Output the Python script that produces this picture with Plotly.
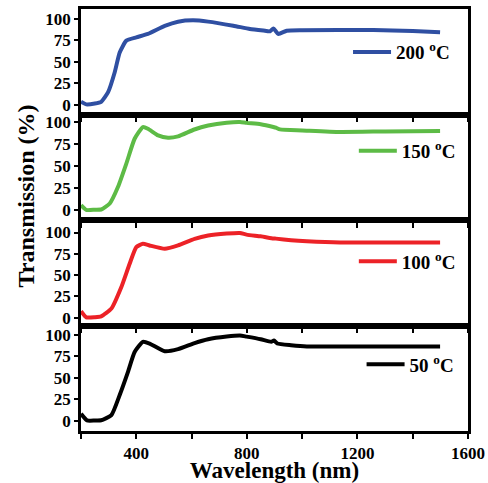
import plotly.graph_objects as go
from plotly.subplots import make_subplots

# ---- data ----
wl_200 = [200, 219, 250, 273, 298, 322, 340, 364, 400, 442, 503, 551, 605, 660, 751, 811, 860, 884, 896, 914, 944, 1000, 1258, 1400, 1499]
t_200 = [3.5, 0.5, 1.5, 3.5, 14.8, 38, 61, 74.8, 78.7, 82.6, 92, 96.9, 98.5, 97, 92.2, 88.4, 86.5, 85.7, 89, 82.6, 86.4, 87, 87.2, 86, 84.5]

wl_150 = [200, 219, 250, 273, 304, 334, 364, 394, 424, 442, 479, 515, 551, 610, 660, 727, 775, 799, 850, 896, 905, 920, 1000, 1137, 1300, 1499]
t_150 = [5.7, 0.3, 0.5, 0.8, 7.6, 26.5, 52.8, 81, 94.3, 92.4, 84.8, 82.2, 83.7, 91.5, 96, 99.2, 100, 99, 97.5, 94.3, 93.5, 91.6, 90.5, 88.7, 89.3, 89.8]

wl_100 = [200, 219, 250, 273, 310, 346, 376, 400, 424, 448, 503, 551, 611, 660, 727, 775, 799, 850, 896, 905, 960, 1017, 1137, 1300, 1499]
t_100 = [7.5, 0.3, 0.5, 1.5, 10.6, 35.9, 63.3, 82.8, 86.8, 84.8, 80.9, 84.8, 92.5, 96.5, 98.8, 99.5, 97.5, 95.5, 93, 92.8, 91, 89.8, 88.3, 88.3, 88.3]

wl_50 = [200, 222, 250, 273, 310, 340, 370, 394, 424, 448, 503, 551, 611, 660, 727, 775, 799, 850, 888, 898, 910, 960, 1017, 1137, 1300, 1499]
t_50 = [8, 0.3, 0.3, 0.5, 6.6, 30, 57, 80.2, 91.9, 90, 81, 83.4, 90.5, 95, 98.1, 99.3, 98, 95, 92, 93.5, 90, 88, 86.5, 86.5, 86.5, 86.5]

series_names = ["200 <sup>o</sup>C", "150 <sup>o</sup>C", "100 <sup>o</sup>C", "50 <sup>o</sup>C"]
series_x = [wl_200, wl_150, wl_100, wl_50]
series_y = [t_200, t_150, t_100, t_50]
colors = ["#2F4FA2", "#5DBB46", "#EC2227", "#000000"]

y_ticks = [0, 25, 50, 75, 100]
x_ticks = [400, 800, 1200, 1600]
x_range = [200, 1600]

FONT = "Liberation Serif"

# per-panel y ranges (top to bottom)
y_ranges = [[-11.3, 111.7], [-11.1, 108.5], [-9.3, 114.7], [-12, 111]]

fig = make_subplots(rows=4, cols=1, shared_xaxes=True, vertical_spacing=0)

legend_pos = [(0.690, 0.898), (0.705, 0.664), (0.705, 0.402), (0.725, 0.158)]
legend_ids = ["legend", "legend2", "legend3", "legend4"]

for i in range(4):
    fig.add_trace(go.Scatter(x=series_x[i], y=series_y[i], mode="lines",
                             line=dict(color=colors[i], width=4, shape="spline", smoothing=0.5),
                             name=series_names[i], legend=legend_ids[i], showlegend=True),
                  row=i + 1, col=1)

for i in range(4):
    lx, ly = legend_pos[i]
    fig.update_layout({legend_ids[i]: dict(x=lx, y=ly, xanchor="left", yanchor="middle",
                                            bgcolor="rgba(0,0,0,0)", itemwidth=38,
                                            font=dict(family=FONT, size=19, color="black", weight="bold"))})

for i in range(4):
    fig.update_yaxes(row=i + 1, col=1, range=y_ranges[i], tickvals=y_ticks, automargin=False,
                     ticks="outside", ticklen=4, tickwidth=2, tickcolor="black",
                     showline=True, linewidth=2.5, linecolor="black", mirror=True,
                     showgrid=False, zeroline=False,
                     tickfont=dict(family=FONT, size=17, color="black", weight="bold"))
    fig.update_xaxes(row=i + 1, col=1, range=x_range, tickvals=x_ticks, automargin=False,
                     ticks="outside", ticklen=5, tickwidth=2, tickcolor="black",
                     minor=dict(dtick=200, tick0=0, ticks="outside", ticklen=5, tickwidth=2, tickcolor="black"),
                     showline=True, linewidth=2.5, linecolor="black", mirror=True,
                     showgrid=False, zeroline=False, showticklabels=(i == 3),
                     tickfont=dict(family=FONT, size=17, color="black", weight="bold"))

fig.update_xaxes(row=4, col=1, title=dict(text="Wavelength (nm)", standoff=11,
                                         font=dict(family=FONT, size=23, color="black", weight="bold")))

fig.add_annotation(text="Transmission (%)", textangle=-90, xref="paper", yref="paper",
                   x=-0.142, y=0.556, xanchor="center", yanchor="middle", showarrow=False,
                   font=dict(family=FONT, size=24, color="black", weight="bold"))

fig.update_layout(width=488, height=483, margin=dict(l=81, r=20, t=9, b=52),
                  paper_bgcolor="white", plot_bgcolor="white", showlegend=True)

fig.write_html("out.html", config={"displayModeBar": False},
               post_script="document.body.style.margin='0';document.body.style.overflow='hidden';")
